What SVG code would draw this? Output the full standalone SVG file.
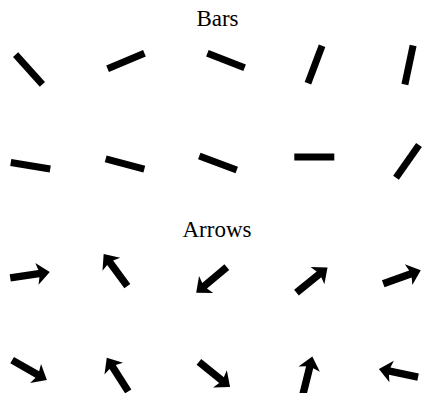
<svg xmlns="http://www.w3.org/2000/svg" xmlns:xlink="http://www.w3.org/1999/xlink" width="422" height="393" viewBox="0 0 422 393">
<style>
.title{font-family:"Liberation Serif","Times New Roman",serif;font-size:23px;fill:#000;text-anchor:middle}
.glyph{fill:#000}
</style>
<defs>
<rect id="bar" x="-20" y="-3.5" width="40" height="7"/>
<path id="arrow" d="M-20,-3.7 L9,-3.7 L7,-11 L20,0 L7,11 L9,3.7 L-20,3.7 Z"/>
</defs>
<rect width="422" height="393" fill="#fff"/>
<text class="title" x="217.5" y="25.5">Bars</text>
<text class="title" x="217" y="237">Arrows</text>
<g id="bars" class="glyph">
<g id="bar-1-1"><use xlink:href="#bar" href="#bar" transform="translate(29,69.5) rotate(48)"/></g>
<g id="bar-1-2"><use xlink:href="#bar" href="#bar" transform="translate(126,61) rotate(-22.8)"/></g>
<g id="bar-1-3"><use xlink:href="#bar" href="#bar" transform="translate(226,60.5) rotate(21.5)"/></g>
<g id="bar-1-4"><use xlink:href="#bar" href="#bar" transform="translate(315,64.5) rotate(110.7)"/></g>
<g id="bar-1-5"><use xlink:href="#bar" href="#bar" transform="translate(409,65) rotate(101.9)"/></g>
<g id="bar-2-1"><use xlink:href="#bar" href="#bar" transform="translate(30.5,165.7) rotate(9.3)"/></g>
<g id="bar-2-2"><use xlink:href="#bar" href="#bar" transform="translate(125,164) rotate(15)"/></g>
<g id="bar-2-3"><use xlink:href="#bar" href="#bar" transform="translate(218,163) rotate(20.5)"/></g>
<g id="bar-2-4"><use xlink:href="#bar" href="#bar" transform="translate(314.3,157) rotate(0)"/></g>
<g id="bar-2-5"><use xlink:href="#bar" href="#bar" transform="translate(407.5,161.3) rotate(-54.9)"/></g>
</g>
<g id="arrows" class="glyph">
<g id="arrow-1-1"><use xlink:href="#arrow" href="#arrow" transform="translate(30,275) rotate(-8.5)"/></g>
<g id="arrow-1-2"><use xlink:href="#arrow" href="#arrow" transform="translate(115.5,270) rotate(-126.3)"/></g>
<g id="arrow-1-3"><use xlink:href="#arrow" href="#arrow" transform="translate(211.5,280) rotate(140)"/></g>
<g id="arrow-1-4"><use xlink:href="#arrow" href="#arrow" transform="translate(312,280) rotate(-39)"/></g>
<g id="arrow-1-5"><use xlink:href="#arrow" href="#arrow" transform="translate(402,277) rotate(-20)"/></g>
<g id="arrow-2-1"><use xlink:href="#arrow" href="#arrow" transform="translate(29.5,370) rotate(29.7)"/></g>
<g id="arrow-2-2"><use xlink:href="#arrow" href="#arrow" transform="translate(117.5,374.5) rotate(-122.5)"/></g>
<g id="arrow-2-3"><use xlink:href="#arrow" href="#arrow" transform="translate(214.5,374.5) rotate(38.9)"/></g>
<g id="arrow-2-4"><use xlink:href="#arrow" href="#arrow" transform="translate(307.5,376) rotate(-76)"/></g>
<g id="arrow-2-5"><use xlink:href="#arrow" href="#arrow" transform="translate(398.5,373) rotate(-168.4)"/></g>
</g>
</svg>
